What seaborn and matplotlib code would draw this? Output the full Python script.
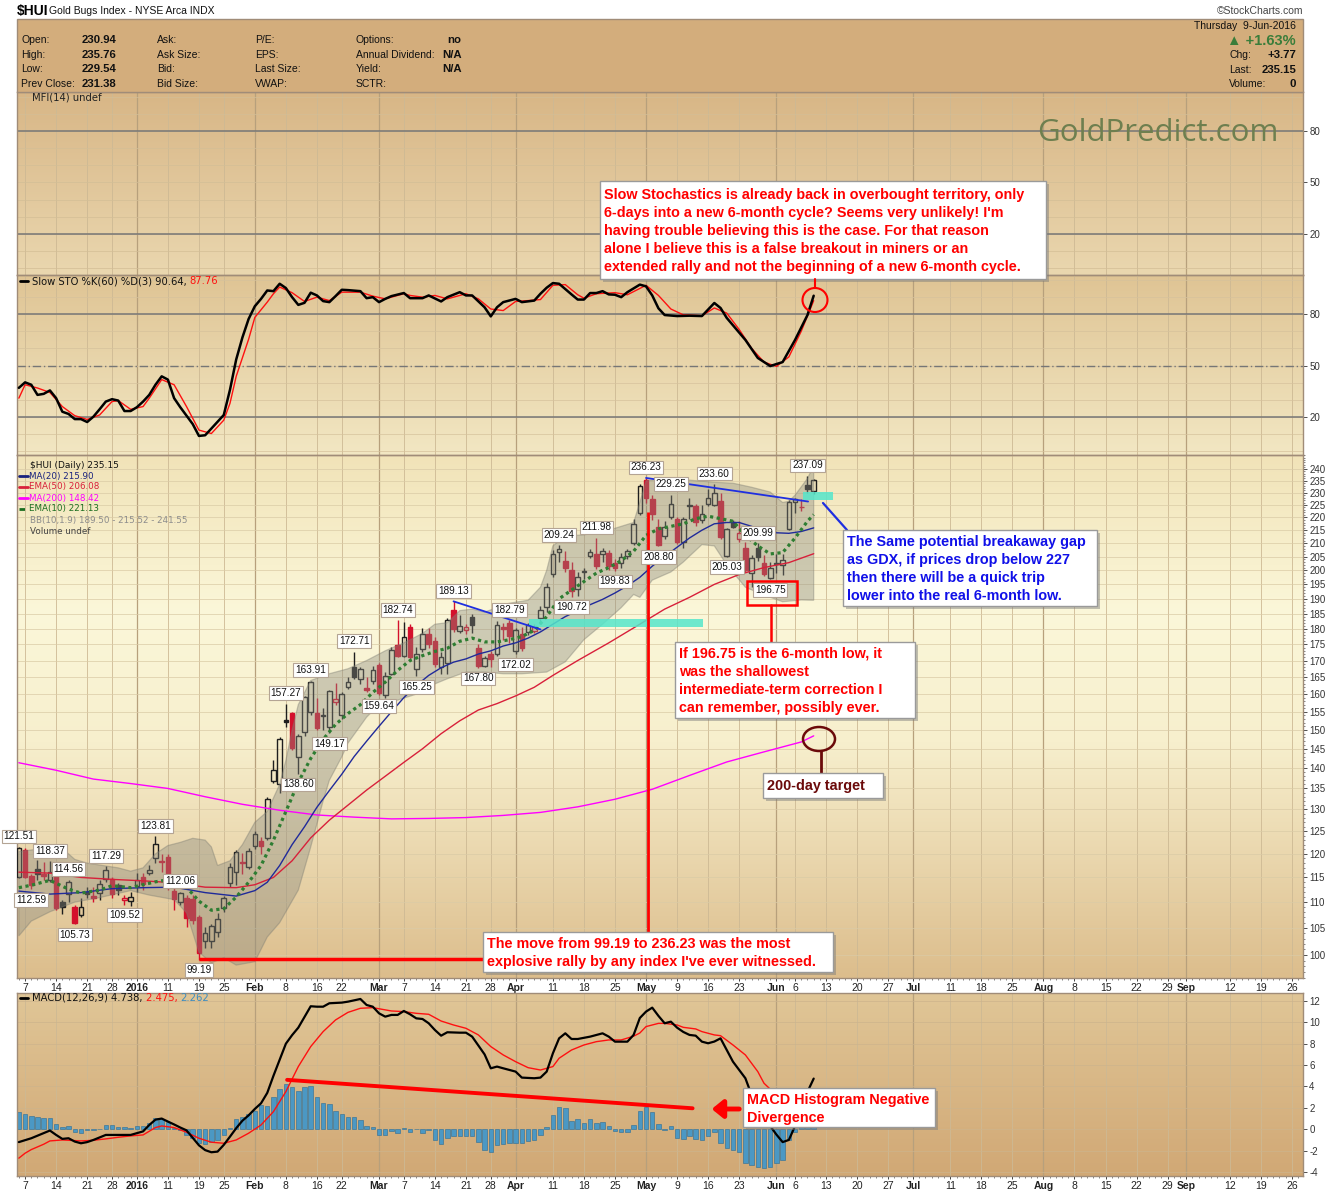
import numpy as np
import pandas as pd
import matplotlib
matplotlib.use("Agg")
import matplotlib.pyplot as plt
import seaborn as sns
from matplotlib.patches import Rectangle, Ellipse
from matplotlib.colors import LinearSegmentedColormap
from matplotlib.ticker import NullFormatter, MultipleLocator, FixedLocator

# ---------------- data ----------------
first_day, last_day, axis_end = "2015-12-04", "2016-06-09", "2016-09-30"
market_holidays = ["2015-12-25", "2016-01-01", "2016-01-18", "2016-02-15", "2016-03-25", "2016-05-30"]

opens = [115.1,120.8,115.3,116.8,115.6,114.5,115.3,110.0,111.6,109.0,
         107.5,112.1,111.2,111.8,114.7,114.7,113.4,110.4,110.2,113.2,
         115.0,116.0,119.1,118.4,119.3,112.2,110.0,110.9,110.6,107.1,
         102.5,102.5,104.2,108.8,113.9,116.1,118.1,117.2,121.7,122.8,
         123.5,136.9,136.1,152.5,154.6,142.8,149.4,155.0,154.7,153.7,
         150.8,157.7,154.1,162.1,168.0,164.4,161.8,163.9,168.6,159.8,
         165.9,174.8,171.4,180.6,167.4,173.5,178.3,176.0,168.0,169.2,
         186.2,179.3,179.6,183.8,173.8,168.3,172.1,172.1,180.6,181.8,
         172.8,178.3,179.0,179.3,183.5,187.1,198.6,206.8,203.3,200.1,
         193.4,199.3,205.4,206.0,206.0,206.3,202.6,202.6,205.4,210.0,
         221.8,235.3,227.5,216.4,212.7,220.1,219.2,210.3,224.8,224.5,
         218.9,225.4,225.1,226.6,205.4,218.2,211.5,208.2,198.9,208.2,
         202.6,197.2,202.4,201.8,215.4,226.3,224.3,233.4,230.94]
highs = [121.51,121.2,115.8,118.7,118.2,118.37,116.0,110.4,114.56,109.5,
         110.9,113.0,113.0,114.5,117.29,115.0,113.8,111.5,112.0,115.9,
         116.0,117.6,123.81,120.0,120.0,113.0,112.06,111.5,111.4,107.5,
         105.2,105.7,107.9,111.2,118.0,120.8,120.2,121.2,125.0,123.7,
         133.0,142.1,148.0,157.27,155.0,149.0,159.5,163.91,158.9,156.0,
         161.2,163.3,160.5,165.0,172.71,168.0,165.0,168.2,169.2,166.5,
         174.2,182.74,182.3,181.5,174.2,180.3,180.3,177.5,172.5,183.5,
         189.13,184.5,181.5,185.0,175.0,171.5,173.0,182.5,182.0,182.79,
         180.3,180.5,181.8,181.5,187.5,195.5,207.5,209.24,207.0,203.0,
         199.5,200.8,208.0,211.98,208.2,207.5,204.0,206.5,208.0,219.5,
         233.5,236.23,229.0,219.5,218.5,229.25,220.0,220.0,227.9,225.5,
         225.0,231.4,233.60,230.0,216.0,219.0,218.5,210.5,205.5,209.99,
         205.5,203.0,206.0,206.0,227.0,227.9,227.5,237.09,235.76]
lows = [114.9,114.8,112.59,114.5,114.5,114.0,108.5,107.7,110.0,105.73,
        107.1,110.9,110.0,110.5,114.0,110.9,111.5,109.52,109.3,112.0,
        112.5,115.5,118.0,116.1,112.5,108.4,109.5,105.2,105.8,99.19,
        101.3,101.3,103.3,108.0,113.0,113.5,115.7,116.8,121.0,120.0,
        123.0,136.4,133.9,150.8,144.7,138.60,148.5,154.0,150.0,150.0,
        149.17,157.0,153.0,161.5,164.5,163.0,160.5,163.0,159.64,159.0,
        165.5,171.0,171.0,170.5,165.25,172.5,174.0,168.0,165.8,165.8,
        179.0,178.5,178.3,178.5,167.80,168.0,167.9,171.5,176.5,175.5,
        172.02,172.8,178.0,178.5,181.5,185.5,197.5,203.0,199.5,190.72,
        191.0,197.0,204.5,200.5,203.0,200.0,199.83,201.0,204.0,209.5,
        221.0,226.0,219.0,208.80,211.8,219.5,209.8,208.2,219.5,216.5,
        218.0,224.5,224.5,211.5,205.03,215.8,210.5,199.5,194.0,203.5,
        198.0,196.75,199.0,198.5,215.0,221.7,222.5,229.9,229.54]
closes = [121.3,115.1,113.4,115.7,115.4,116.2,108.8,109.0,114.0,105.9,
          109.0,111.7,110.9,113.6,116.6,111.6,112.4,110.9,111.0,114.5,
          113.6,116.6,122.1,118.2,113.4,110.6,111.8,106.9,106.5,100.4,
          104.0,105.4,106.7,110.8,117.2,120.4,118.0,120.6,124.3,121.7,
          132.4,139.6,147.6,152.3,145.2,148.4,159.2,163.4,150.5,153.9,
          160.9,158.5,160.0,163.6,165.0,167.5,161.2,167.2,160.2,165.3,
          173.2,171.4,177.3,171.2,172.1,178.3,175.1,168.8,171.2,182.8,
          180.0,180.9,180.6,181.2,168.2,170.8,170.4,181.2,180.0,177.6,
          179.6,173.8,181.2,180.6,186.2,194.1,205.9,207.8,200.8,192.7,
          197.5,199.8,206.7,201.6,207.1,201.6,200.8,204.8,207.0,217.3,
          233.0,227.9,221.2,209.5,216.4,225.4,210.3,219.2,224.5,218.2,
          221.5,227.9,229.8,212.2,215.4,216.4,213.8,200.1,204.5,204.8,
          198.6,200.8,202.6,203.9,226.3,227.5,224.0,231.38,235.15]

high_label_idx = [0,5,8,14,22,26,43,47,54,61,70,79,87,93,101,105,112,119,127]
low_label_idx = [2,9,17,29,45,50,58,64,74,80,89,96,103,114,121]

ma20_idx = [0,5,10,15,20,25,30,35,38,40,42,44,46,48,50,52,54,56,58,60,62,64,66,68,70,72,74,76,78,80,
            82,84,86,88,90,92,94,96,98,100,102,104,106,108,110,112,114,116,118,120,122,124,126,128]
ma20_val = [112.2,111.6,111.9,112.7,112.9,113.0,111.9,111.2,112.3,114.0,117.5,122.0,126.0,130.5,134.5,
            138.5,143.0,147.0,151.0,155.0,159.0,162.5,165.5,167.8,169.5,170.5,172.0,173.0,174.5,175.5,
            177.0,179.0,181.5,184.0,186.0,188.0,189.8,192.0,194.5,197.5,201.5,205.0,208.5,212.0,215.0,
            217.5,218.0,218.0,216.5,215.0,214.0,213.8,214.5,215.9]
ema50_idx = [0,5,10,15,20,25,30,35,38,41,44,47,50,53,56,59,62,65,68,71,74,77,80,83,86,90,95,100,104,108,
             112,116,120,124,128]
ema50_val = [116.1,115.9,115.0,114.6,114.3,113.9,113.0,112.9,113.5,115.0,118.5,123.5,127.5,131.0,134.6,
             138.0,141.5,145.0,149.0,152.5,155.5,157.3,159.5,162.0,165.5,170.0,175.5,181.5,186.5,190.5,
             195.0,198.5,201.0,202.8,206.08]
ma200_idx = [0,6,12,18,24,30,36,42,48,54,60,66,72,78,84,90,96,102,108,114,120,126,128]
ma200_val = [141.4,139.5,137.3,136.2,135.0,133.0,131.2,129.8,128.7,128.2,127.8,127.9,128.1,128.6,129.3,
             130.6,132.4,134.8,138.2,141.6,144.2,146.8,148.42]
ema10_idx = [0,2,5,8,10,13,15,18,22,25,27,29,31,33,35,37,39,41,43,45,47,49,51,53,55,57,59,61,63,65,
             67,69,71,73,75,77,79,81,83,85,87,89,91,93,95,97,99,101,103,105,107,109,111,113,115,117,119,
             121,123,125,127,128]
ema10_val = [112.9,113.4,114.4,112.6,111.8,112.4,113.3,112.9,114.1,114.7,113.0,110.2,108.4,108.7,111.0,
             114.0,117.5,123.0,129.5,136.5,142.5,147.5,151.5,154.5,157.0,160.5,163.5,167.0,170.0,171.5,
             172.8,173.8,176.0,177.0,175.8,175.8,176.5,177.5,179.5,184.0,190.0,193.0,196.0,199.0,201.0,
             203.5,207.0,213.0,215.5,216.5,217.5,219.5,220.5,219.5,218.5,213.0,209.0,206.0,206.5,212.0,
             218.5,221.13]
bb_up_idx = [0,3,5,7,9,11,13,16,18,20,22,24,26,28,30,31,32,34,36,38,40,42,43,44,45,47,50,53,56,59,
             62,65,67,69,71,73,75,77,79,82,84,85,86,88,91,95,99,100,101,104,108,112,115,118,121,123,124,
             125,127,128]
bb_up_val = [120.5,121.0,121.5,121.2,118.8,118.0,117.6,117.0,116.3,117.0,120.0,121.8,122.5,123.4,123.0,
             121.5,117.5,118.5,122.0,127.0,129.5,136.0,142.0,150.0,157.0,164.0,166.0,167.5,170.0,173.0,
             175.5,178.5,181.5,182.0,186.0,186.5,185.5,187.0,188.5,189.5,194.0,200.0,209.0,212.8,213.2,
             215.0,218.0,226.0,235.0,236.0,235.3,234.4,234.0,232.3,230.3,226.0,226.5,229.0,236.0,241.55]
bb_lo_idx = [0,2,5,9,13,18,21,25,27,29,31,33,35,38,40,42,45,47,49,50,52,53,56,58,61,64,67,69,72,75,
             78,81,85,88,91,94,97,99,100,102,105,107,110,112,114,117,120,123,126,128]
bb_lo_val = [103.5,106.3,108.1,110.0,110.9,112.3,111.4,110.5,107.9,100.5,98.6,99.5,98.2,98.8,103.3,
             106.0,112.4,121.5,132.0,137.0,142.9,146.5,153.5,157.0,158.3,160.0,163.0,164.5,166.5,166.5,
             166.0,166.0,166.5,169.6,176.5,181.5,187.0,191.5,190.5,196.5,199.4,203.0,209.5,209.0,202.0,
             194.0,191.3,189.0,189.6,189.5]

sto_k_idx = [0,1,2,3,4,5,6,7,8,9,10,11,12,13,14,15,16,17,18,19,20,21,22,23,24,25,26,27,28,29,30,31,
             33,34,35,36,37,38,39,40,41,42,43,44,45,46,47,48,49,50,51,52,53,55,56,57,58,59,60,62,63,
             65,66,68,69,71,72,73,75,76,77,78,80,81,83,84,85,86,87,89,90,91,92,93,94,95,96,97,98,
             100,101,102,103,104,106,108,110,112,113,114,117,119,121,123,125,127,128]
sto_k = [37.0,40.2,38.8,32.9,33.5,35.5,31.0,23.1,21.8,18.8,18.8,17.1,20.2,24.5,29.0,30.4,29.6,23.5,
         23.5,25.7,29.0,32.9,38.8,43.7,41.8,31.0,25.7,20.8,15.9,9.0,9.4,13.3,
         21.2,35.9,53.5,66.3,77.1,84.5,88.8,93.7,93.3,97.6,95.1,89.8,85.3,86.5,92.4,90.8,87.5,86.9,
         90.4,94.1,93.9,93.3,89.2,89.8,86.9,88.8,90.4,92.2,89.2,89.2,90.8,87.3,89.8,92.7,90.8,90.8,
         83.9,78.6,83.9,86.9,88.8,86.9,87.8,91.8,95.3,98.0,97.6,91.4,88.4,88.4,92.2,92.2,93.3,91.4,
         91.2,89.8,92.7,97.1,96.1,90.8,83.3,79.4,78.8,79.0,78.8,86.4,83.5,77.7,64.9,54.4,49.7,52.0,
         64.9,79.4,90.64]
sto_d_idx = [0,1,3,5,7,9,11,13,15,16,18,20,21,23,25,27,29,31,33,34,35,37,38,40,41,42,44,46,48,50,
             52,55,57,59,62,63,65,67,69,72,74,76,78,80,82,84,86,88,90,91,93,96,98,101,103,105,107,
             110,112,114,116,118,120,122,124,126,128]
sto_d = [31.0,38.8,36.9,34.3,26.1,20.8,18.6,21.2,29.0,29.6,24.5,26.1,31.0,41.8,38.8,26.1,12.4,10.4,
         18.2,28.0,43.7,65.3,78.0,86.9,91.8,95.7,92.4,87.3,89.8,87.8,92.7,92.7,90.4,88.8,91.8,90.8,
         89.8,90.8,88.8,91.8,88.8,82.9,82.0,87.3,87.8,88.4,96.7,97.1,91.2,89.2,91.8,92.4,91.2,96.7,
         90.8,82.9,79.5,79.0,83.5,80.5,71.0,60.0,52.0,49.5,55.0,70.0,87.76]

macd_idx = [0,2,3,5,6,7,8,9,10,11,12,14,16,18,20,21,22,23,24,25,26,27,28,29,30,31,32,33,34,35,36,37,
            38,39,40,41,42,43,44,45,46,47,48,49,50,52,53,55,56,57,58,59,60,61,62,63,64,65,66,67,68,69,
            71,72,73,75,76,77,78,80,81,83,84,85,86,87,88,89,90,92,94,95,96,98,99,100,101,102,103,104,
            105,106,107,108,109,110,111,112,113,114,115,117,118,119,120,121,122,123,124,125,126,127,128]
macd_val = [-1.2,-0.84,-0.6,-0.12,-0.53,-0.9,-0.84,-1.15,-1.31,-1.2,-1.0,-0.53,-0.53,-0.53,-0.2,0.4,
            0.9,1.0,0.72,0.45,0.16,-0.1,-0.8,-1.5,-1.95,-2.15,-2.09,-1.46,-0.69,0.1,0.8,1.3,1.9,2.43,
            3.4,5.0,6.5,8.0,8.8,9.5,10.5,11.5,11.46,11.46,11.78,11.84,11.93,12.18,11.62,11.46,10.84,
            10.53,10.69,10.69,11.06,10.75,10.37,10.31,9.91,9.28,8.75,9.07,9.03,9.03,8.66,7.0,5.70,5.86,
            5.70,5.39,4.83,4.77,4.83,5.39,7.10,8.50,8.97,8.44,8.44,8.66,8.97,8.66,8.19,8.19,8.82,10.4,
            11.0,11.37,10.6,9.91,10.06,9.5,9.1,8.82,8.75,8.19,8.04,8.2,8.50,7.41,6.32,4.77,3.2,2.2,1.2,
            0.3,-0.5,-1.2,-1.0,0.3,2.0,3.5,4.738]
sig_idx = [0,1,2,4,5,7,10,12,14,16,18,20,22,23,25,27,29,31,33,35,37,39,41,43,45,47,49,51,53,55,
           57,60,62,64,66,68,70,72,74,76,78,80,82,84,86,87,89,91,93,95,97,99,100,101,103,104,106,107,
           109,110,112,113,115,117,119,120,122,124,126,128]
sig_val = [-2.7,-2.24,-1.9,-1.4,-1.09,-1.0,-1.09,-1.03,-0.90,-0.75,-0.62,-0.53,0.16,0.31,0.16,-0.28,
           -0.84,-1.21,-1.31,-1.0,-0.37,0.40,1.65,3.52,5.86,7.73,9.13,10.22,10.93,11.31,11.37,11.06,
           11.0,10.84,10.75,10.12,9.75,9.44,8.82,7.73,6.95,6.32,5.76,5.54,5.86,6.64,7.41,7.88,8.19,
           8.35,8.35,8.7,9.0,9.6,9.9,9.9,9.75,9.53,9.38,9.13,8.82,8.75,7.88,6.95,5.39,4.3,3.2,2.4,
           2.2,2.475]
hist = [1.59,1.46,1.28,1.18,1.09,1.03,0.50,0.22,0.34,-0.22,
        -0.31,-0.06,-0.09,0.03,0.44,0.37,0.25,0.22,0.12,0.28,
        0.34,0.59,1.03,0.93,0.65,0.16,-0.06,-0.53,-0.78,-1.31,
        -1.37,-1.15,-1.00,-0.53,0.16,0.93,1.12,1.40,1.71,2.27,
        2.21,3.05,3.74,4.21,3.93,3.61,3.93,4.08,3.05,2.43,
        2.34,1.71,1.40,1.18,1.15,0.87,0.31,0.22,-0.53,-0.53,
        -0.16,-0.31,0.09,-0.28,0.03,-0.37,-0.06,-1.03,-1.34,-0.78,
        -0.62,-0.62,-0.62,-0.62,-1.15,-1.93,-2.09,-1.46,-1.37,-1.31,
        -1.31,-1.31,-1.09,-1.00,-0.53,0.25,1.34,2.12,1.96,0.78,
        0.93,0.62,0.93,0.62,0.72,0.31,-0.16,-0.22,-0.22,0.40,
        1.71,2.06,1.59,0.47,-0.06,0.31,-0.84,-0.90,-0.62,-0.90,
        -1.00,-0.62,-0.22,-1.31,-1.71,-1.93,-2.09,-3.12,-3.33,-3.49,
        -3.58,-3.49,-3.18,-2.87,-1.00,-0.30,0.60,1.50,2.262]

tick_dates = ["2015-12-07","2015-12-14","2015-12-21","2015-12-28","2016-01-04","2016-01-11","2016-01-19",
              "2016-01-25","2016-02-01","2016-02-08","2016-02-16","2016-02-22","2016-03-01","2016-03-07",
              "2016-03-14","2016-03-21","2016-03-28","2016-04-01","2016-04-11","2016-04-18","2016-04-25",
              "2016-05-02","2016-05-09","2016-05-16","2016-05-23","2016-06-01","2016-06-06","2016-06-13",
              "2016-06-20","2016-06-27","2016-07-01","2016-07-11","2016-07-18","2016-07-25","2016-08-01",
              "2016-08-08","2016-08-15","2016-08-22","2016-08-29","2016-09-01","2016-09-12","2016-09-19",
              "2016-09-26"]
tick_labels = ["7","14","21","28","2016","11","19","25","Feb","8","16","22","Mar","7","14","21","28",
               "Apr","11","18","25","May","9","16","23","Jun","6","13","20","27","Jul","11","18","25",
               "Aug","8","15","22","29","Sep","12","19","26"]
bold_labels = {"2016","Feb","Mar","Apr","May","Jun","Jul","Aug","Sep"}
price_ticks = list(range(100, 245, 5))
osc_ticks = [20, 50, 80]
macd_ticks = list(range(-4, 13, 2))

# ---------------- calendar ----------------
past = pd.bdate_range(first_day, last_day)
past = past[~past.isin(pd.to_datetime(market_holidays))]
future = pd.bdate_range(pd.Timestamp(last_day) + pd.Timedelta(days=1), axis_end)
cal = past.append(future)
n = len(closes)
tick_pos = [cal.get_loc(pd.Timestamp(d)) for d in tick_dates]

# ---------------- figure ----------------
sns.set_theme(style="white")
plt.rcParams['font.family'] = ['Liberation Sans', 'DejaVu Sans']
plt.rcParams['axes.unicode_minus'] = False

W, H = 1340, 1192
fig = plt.figure(figsize=(W / 100, H / 100), dpi=100, facecolor='white')
XL, XR = 17, 1303
XLIM = (-0.3, 206.8)
SPINE = '#A08C78'


def panel(y0, y1, stops):
    rect = [XL / W, 1 - y1 / H, (XR - XL) / W, (y1 - y0) / H]
    bg = fig.add_axes(rect, zorder=0, label=f'bg{y0}')
    cmap = LinearSegmentedColormap.from_list(f'g{y0}', stops)
    bg.imshow(np.linspace(0, 1, 256).reshape(-1, 1), cmap=cmap, aspect='auto',
              extent=[0, 1, 0, 1], interpolation='bilinear')
    bg.set_axis_off()
    ax = fig.add_axes(rect, zorder=1, label=f'ax{y0}')
    ax.set_facecolor('none')
    for s in ax.spines.values():
        s.set_color(SPINE)
        s.set_linewidth(1.0)
    ax.set_xlim(*XLIM)
    for p, lab in zip(tick_pos, tick_labels):
        strong = lab in bold_labels
        ax.axvline(p, color='#B7A07C' if strong else '#CDB994', lw=0.9 if strong else 0.6, zorder=0.5)
    ax.set_xticks(tick_pos)
    ax.yaxis.tick_right()
    ax.tick_params(axis='y', which='major', length=3, width=0.6, colors='#333333', labelsize=7, pad=1.5,
                   right=True, left=False)
    ax.tick_params(axis='x', which='both', labelbottom=False, length=0)
    ax.set_xlabel('')
    ax.set_ylabel('')
    return ax


def date_labels(ax):
    ax.set_xticklabels(tick_labels)
    ax.tick_params(axis='x', which='major', labelbottom=True, length=2, width=0.6, labelsize=7.5,
                   pad=1.5, colors='#222222', bottom=True)
    ax.xaxis.set_minor_locator(MultipleLocator(1))
    ax.tick_params(axis='x', which='minor', length=1.3, width=0.5, bottom=True, colors='#555555')
    for t in ax.get_xticklabels():
        if t.get_text() in bold_labels:
            t.set_fontweight('bold')


mfi = panel(92, 275, [(0, '#D8B686'), (1, '#EAD7AF')])
sto = panel(275, 455, [(0, '#DFC494'), (1, '#F2E7C3')])
price = panel(455, 978, [(0, '#F1E3B8'), (0.3, '#FBF7D9'), (0.55, '#F7EFCD'), (1, '#DCBD8C')])
macd = panel(993, 1176, [(0, '#E0C697'), (1, '#D1A875')])

# ---------- MFI panel (empty) ----------
mfi.set_ylim(-3.9, 102.7)
for v in range(0, 101, 10):
    mfi.axhline(v, color='#D3BE96', lw=0.5, zorder=0.5)
for v in (20, 80):
    mfi.axhline(v, color='#767676', lw=1.1, zorder=1)
mfi.set_yticks(osc_ticks)
mfi.set_yticklabels([str(v) for v in osc_ticks])

# ---------- Slow stochastics ----------
sto.set_ylim(-2.1, 102.7)
for v in range(0, 101, 10):
    sto.axhline(v, color='#D6C29C', lw=0.5, zorder=0.5)
for v in (20, 80):
    sto.axhline(v, color='#767676', lw=1.1, zorder=1)
sto.axhline(50, color='#767676', lw=1.0, ls=(0, (6, 2, 1, 2)), zorder=1)
sns.lineplot(x=sto_d_idx, y=sto_d, ax=sto, color='#FF1010', lw=1.0, estimator=None, sort=False,
             legend=False, zorder=3)
sns.lineplot(x=sto_k_idx, y=sto_k, ax=sto, color='black', lw=1.8, estimator=None, sort=False,
             legend=False, zorder=4)
sto.set_xlim(*XLIM)
sto.set_yticks(osc_ticks)
sto.set_yticklabels([str(v) for v in osc_ticks])
sto.set_xlabel('')
sto.set_ylabel('')

# ---------- Price panel ----------
price.set_yscale('log')
price.set_ylim(95.94, 246.2)
for v in price_ticks:
    price.axhline(v, color='#DACBA6', lw=0.5, zorder=0.5)

idx = np.arange(n)
o, h, l, c = (np.array(a, dtype=float) for a in (opens, highs, lows, closes))
prev = np.r_[c[0], c[:-1]]
col = np.where(c < prev, '#D4102C', '#1E1E1E')
hollow = c > o
body_lo, body_hi = np.minimum(o, c), np.maximum(o, c)
price.vlines(idx, body_hi, h, colors=col, lw=1.0, zorder=3)
price.vlines(idx, l, body_lo, colors=col, lw=1.0, zorder=3)
heights = np.maximum(body_hi - body_lo, 0.35)
faces = ['none' if hw else cc for hw, cc in zip(hollow, col)]
price.bar(idx, heights, bottom=body_lo, width=0.74, color=faces, edgecolor=col, linewidth=1.0, zorder=3)

# Bollinger band
price.fill(np.r_[bb_up_idx, bb_lo_idx[::-1]], np.r_[bb_up_val, bb_lo_val[::-1]],
           facecolor='#8B8B80', edgecolor='#7C7C72', alpha=0.40, lw=0.9, zorder=4)

sns.lineplot(x=ma200_idx, y=ma200_val, ax=price, color='#FF00FF', lw=1.0, estimator=None, sort=False,
             legend=False, zorder=5)
sns.lineplot(x=ema50_idx, y=ema50_val, ax=price, color='#D8203A', lw=1.0, estimator=None, sort=False,
             legend=False, zorder=5)
sns.lineplot(x=ma20_idx, y=ma20_val, ax=price, color='#202A9A', lw=1.0, estimator=None, sort=False,
             legend=False, zorder=5)
sns.lineplot(x=ema10_idx, y=ema10_val, ax=price, color='#2E7D32', lw=2.3, linestyle=(0, (1, 1.1)),
             estimator=None, sort=False, legend=False, zorder=5)
price.set_xlim(*XLIM)
price.set_ylim(95.94, 246.2)
price.set_xlabel('')
price.set_ylabel('')

# trend lines / highlights drawn by the chartist
price.plot([70, 84], [highs[70], 179.8], color='#1F2FE0', lw=1.3, zorder=5.5)
price.plot([101, 127.1], [highs[101], 226.4], color='#1F2FE0', lw=1.3, zorder=5.5)
price.add_patch(Rectangle((82.1, 180.6), 28.0, 2.6, facecolor='#55E6CB', alpha=0.85, lw=0, zorder=5.2))
price.add_patch(Rectangle((126.2, 227.0), 4.9, 3.3, facecolor='#55E6CB', alpha=0.85, lw=0, zorder=5.2))
price.vlines(101.3, 104.2, 222.3, color='#FF0000', lw=2.0, zorder=6)
price.hlines(99.28, 29, 74.8, color='#FF0000', lw=2.5, zorder=6)

lab_box = dict(boxstyle='square,pad=0.18', fc='white', ec='#B4A494', lw=0.8)
for i in high_label_idx:
    price.annotate(f"{highs[i]:.2f}", xy=(i, highs[i]), xytext=(0, 4), textcoords='offset points',
                   ha='center', va='bottom', fontsize=7.2, color='#111111', zorder=7, bbox=lab_box,
                   annotation_clip=False)
for i in low_label_idx:
    price.annotate(f"{lows[i]:.2f}", xy=(i, lows[i]), xytext=(0, -4), textcoords='offset points',
                   ha='center', va='top', fontsize=7.2, color='#111111', zorder=7, bbox=lab_box,
                   annotation_clip=False)

price.set_yticks(price_ticks)
price.set_yticklabels([str(v) for v in price_ticks])
price.yaxis.set_minor_locator(FixedLocator(list(range(96, 247))))
price.yaxis.set_minor_formatter(NullFormatter())
price.tick_params(axis='y', which='minor', length=1.5, width=0.5, colors='#555555', right=True, left=False)
date_labels(price)

# ---------- MACD ----------
macd.set_ylim(-4.37, 12.74)
for v in macd_ticks:
    macd.axhline(v, color='#CDB48C', lw=0.5, zorder=0.5)
macd.bar(idx, hist, width=0.72, color='#4B98C4', edgecolor='#2C6C94', lw=0.4, zorder=2)
sns.lineplot(x=sig_idx, y=sig_val, ax=macd, color='#FF1010', lw=1.0, estimator=None, sort=False,
             legend=False, zorder=3)
sns.lineplot(x=macd_idx, y=macd_val, ax=macd, color='black', lw=1.6, estimator=None, sort=False,
             legend=False, zorder=4)
macd.plot([43.2, 108.5], [4.62, 1.96], color='#FF0000', lw=2.8, zorder=5)
macd.set_xlim(*XLIM)
macd.set_ylim(-4.37, 12.74)
macd.set_xlabel('')
macd.set_ylabel('')
macd.set_yticks(macd_ticks)
macd.set_yticklabels([str(v) for v in macd_ticks])
date_labels(macd)

# ---------------- overlay (texts & annotation boxes, pixel coordinates) ----------------
ov = fig.add_axes([0, 0, 1, 1], zorder=20, label='overlay')
ov.set_xlim(0, W)
ov.set_ylim(H, 0)
ov.set_axis_off()
ov.patch.set_alpha(0)
renderer = fig.canvas.get_renderer()


def seq_text(x, y, parts, **kw):
    for s, colr in parts:
        t = ov.text(x, y, s, color=colr, va='center', ha='left', **kw)
        x += t.get_window_extent(renderer=renderer).width


# title and header
ov.text(17, 11, r'\$HUI', fontsize=10, fontweight='bold', va='center', color='black')
ov.text(49, 11, 'Gold Bugs Index - NYSE Arca INDX', fontsize=7.5, va='center', color='#111111')
ov.text(1303, 11, '\u00a9StockCharts.com', fontsize=7.5, va='center', ha='right', color='#444444')
ov.add_patch(Rectangle((17, 19), XR - 17, 73, facecolor='#D3AD7C', edgecolor=SPINE, lw=1.0, zorder=0))

rows = [40, 55, 69, 84]
hdr = dict(fontsize=7.5, va='center', color='#111111')
hdrb = dict(fontsize=8.2, va='center', color='#111111', fontweight='bold')
for y, a, b in zip(rows, ['Open:', 'High:', 'Low:', 'Prev Close:'], ['230.94', '235.76', '229.54', '231.38']):
    ov.text(21, y, a, **hdr)
    ov.text(82, y, b, **hdrb)
for y, a in zip(rows, ['Ask:', 'Ask Size:', 'Bid:', 'Bid Size:']):
    ov.text(157, y, a, **hdr)
for y, a in zip(rows, ['P/E:', 'EPS:', 'Last Size:', 'VWAP:']):
    ov.text(255, y, a, **hdr)
for y, a in zip(rows, ['Options:', 'Annual Dividend:', 'Yield:', 'SCTR:']):
    ov.text(356, y, a, **hdr)
ov.text(447, 40, 'no', **hdrb)
ov.text(442, 55, 'N/A', **hdrb)
ov.text(442, 69, 'N/A', **hdrb)
ov.text(1296, 26, 'Thursday  9-Jun-2016', ha='right', **hdr)
ov.text(1296, 41, '\u25b2 +1.63%', ha='right', fontsize=10.5, fontweight='bold', va='center', color='#3A7D3A')
for y, a, b in zip([55, 70, 84], ['Chg:', 'Last:', 'Volume:'], ['+3.77', '235.15', '0']):
    ov.text(1229, y, a, **hdr)
    ov.text(1296, y, b, ha='right', **hdrb)

# panel captions
small = dict(fontsize=7.2, family=['DejaVu Sans'])
ov.text(32, 98, 'MFI(14) undef', va='center', color='#222222', **small)
ov.plot([20, 28], [281, 281], color='black', lw=2)
seq_text(32, 281, [('Slow STO %K(60) %D(3) 90.64, ', '#111111'), ('87.76', '#FF1010')], **small)
ov.plot([20, 28], [998, 998], color='black', lw=2)
seq_text(32, 998, [('MACD(12,26,9) 4.738, ', '#111111'), ('2.475, ', '#FF1010'), ('2.262', '#3C8CC0')], **small)

leg = [('\\$HUI (Daily) 235.15', '#111111', None),
       ('MA(20) 215.90', '#1A237E', '-'),
       ('EMA(50) 206.08', '#D8203A', '-'),
       ('MA(200) 148.42', '#FF00FF', '-'),
       ('EMA(10) 221.13', '#1B6E20', ':'),
       ('BB(10,1.9) 189.50 - 215.52 - 241.55', '#8C8C8C', None),
       ('Volume undef', '#444444', None)]
for k, (s, colr, ls) in enumerate(leg):
    y = 465 + 11 * k
    if ls == '-':
        ov.plot([19, 28], [y, y], color=colr, lw=2)
    elif ls == ':':
        ov.plot([19, 28], [y, y], color=colr, lw=2, ls=(0, (2, 2)))
    ov.text(29 if ls else 30, y, s, va='center', color=colr, fontsize=6.5 if k == 0 else 6.3,
            family=['DejaVu Sans'])

ov.text(1037, 133, 'GoldPredict.com', fontsize=22.5, va='center', ha='left', color='#6E7F4F',
        family=['Open Sans', 'DejaVu Sans'])


def note_box(x0, y0, x1, y1, lines, colr, ytop, dy, fs=10.4):
    ov.add_patch(Rectangle((x0 + 3, y0 + 3), x1 - x0, y1 - y0, facecolor='#7A7A7A', alpha=0.45, lw=0, zorder=1))
    ov.add_patch(Rectangle((x0, y0), x1 - x0, y1 - y0, facecolor='white', edgecolor='#9A9A9A', lw=1.0, zorder=2))
    for k, s in enumerate(lines):
        ov.text(x0 + 4, ytop + dy * k, s, color=colr, fontsize=fs, fontweight='bold', va='center',
                ha='left', zorder=3)


RED = '#FF0000'
note_box(600, 181, 1046, 279,
         ["Slow Stochastics is already back in overbought territory, only",
          "6-days into a new 6-month cycle? Seems very unlikely! I'm",
          "having trouble believing this is the case. For that reason",
          "alone I believe this is a false breakout in miners or an",
          "extended rally and not the beginning of a new 6-month cycle."], RED, 195, 18)
ov.plot([815, 815], [279, 288], color=RED, lw=1.5)
ov.add_patch(Ellipse((815, 300), 25, 24, facecolor='none', edgecolor=RED, lw=1.5))

ov.plot([823, 847], [503, 530], color='#1F2FE0', lw=1.6)
note_box(843, 530, 1097, 606,
         ["The Same potential breakaway gap",
          "as GDX, if prices drop below 227",
          "then there will be a quick trip",
          "lower into the real 6-month low."], '#1010E8', 542, 18)

ov.add_patch(Rectangle((747, 581), 50, 24, facecolor='none', edgecolor=RED, lw=1.8))
ov.plot([771, 771], [605, 642], color=RED, lw=1.8)
note_box(675, 642, 915, 718,
         ["If 196.75 is the 6-month low, it",
          "was the shallowest",
          "intermediate-term correction I",
          "can remember, possibly ever."], RED, 654, 18)

MAROON = '#6B0A0A'
ov.add_patch(Ellipse((819, 739), 32, 24, facecolor='none', edgecolor=MAROON, lw=1.8))
ov.plot([821, 821], [751, 773], color=MAROON, lw=2.0)
note_box(763, 773, 883, 798, ["200-day target"], MAROON, 786, 18)

note_box(483, 932, 833, 972,
         ["The move from 99.19 to 236.23 was the most",
          "explosive rally by any index I've ever witnessed."], RED, 944, 18)

note_box(743, 1088, 935, 1127, ["MACD Histogram Negative", "Divergence"], RED, 1100, 18)
ov.annotate('', xy=(709, 1109), xytext=(742, 1109),
            arrowprops=dict(arrowstyle='-|>,head_length=0.55,head_width=0.45', lw=3.5, color=RED))

fig.savefig('out.png', dpi=100, facecolor='white')
